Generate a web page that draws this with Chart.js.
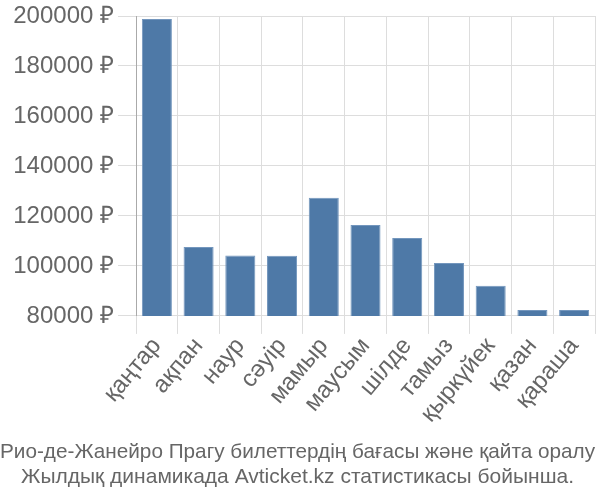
<!DOCTYPE html>
<html>
<head>
<meta charset="utf-8">
<script src="https://cdn.jsdelivr.net/npm/chart.js@4"></script>
<style>
  html, body { margin: 0; padding: 0; background: #fff; }
  #wrap { width: 600px; height: 500px; }
</style>
</head>
<body>
<div id="wrap"><canvas id="chartArea" width="600" height="500"></canvas></div>
<script>
var months = ['қаңтар', 'ақпан', 'наур', 'сәуір', 'мамыр', 'маусым', 'шілде', 'тамыз', 'қыркүйек', 'қазан', 'қараша']
var prices = [198800, 107600, 104200, 104100, 127300, 116400, 111200, 101200, 92100, 82400, 82400]
var yTicks = [80000, 100000, 120000, 140000, 160000, 180000, 200000]
var titleLines = ['Рио-де-Жанейро Прагу билеттердің бағасы және қайта оралу', 'Жылдық динамикада Avticket.kz статистикасы бойынша.']

Chart.defaults.font.family = '"Liberation Sans", Arial, sans-serif'
Chart.defaults.color = '#666'

var tickFont = { size: 24, lineHeight: 1 }

var ctx = document.getElementById('chartArea').getContext('2d')
var myChart = new Chart(ctx, {
  type: 'bar',
  data: {
    labels: months,
    datasets: [{
      data: prices,
      backgroundColor: '#4e79a7',
      borderColor: '#7396bd',
      borderWidth: 1
    }]
  },
  options: {
    responsive: false,
    animation: false,
    layout: { padding: { top: -3, right: 5, left: 0, bottom: 0 } },
    plugins: {
      legend: { display: false },
      tooltip: { enabled: false },
      title: {
        display: true,
        position: 'bottom',
        text: titleLines,
        color: '#666',
        font: { size: 21, weight: 'normal' },
        padding: { top: 13, bottom: 10 }
      }
    },
    scales: {
      x: {
        grid: { color: '#ddd', lineWidth: 1, tickLength: 18, offset: true },
        border: { color: '#ddd' },
        ticks: { font: tickFont, color: '#666', maxRotation: 50, minRotation: 50, padding: 0, autoSkip: false }
      },
      y: {
        min: yTicks[0],
        max: yTicks[yTicks.length - 1],
        afterBuildTicks: function (axis) { axis.ticks = yTicks.map(function (v) { return { value: v } }) },
        afterFit: function (axis) { axis.width = 136 },
        grid: { color: '#ddd', lineWidth: 1, tickLength: 18 },
        border: { color: '#aaa', width: 1 },
        ticks: {
          font: tickFont,
          color: '#666',
          padding: 4,
          callback: function (v) { return v + ' ₽' }
        }
      }
    }
  }
})
</script>
</body>
</html>
